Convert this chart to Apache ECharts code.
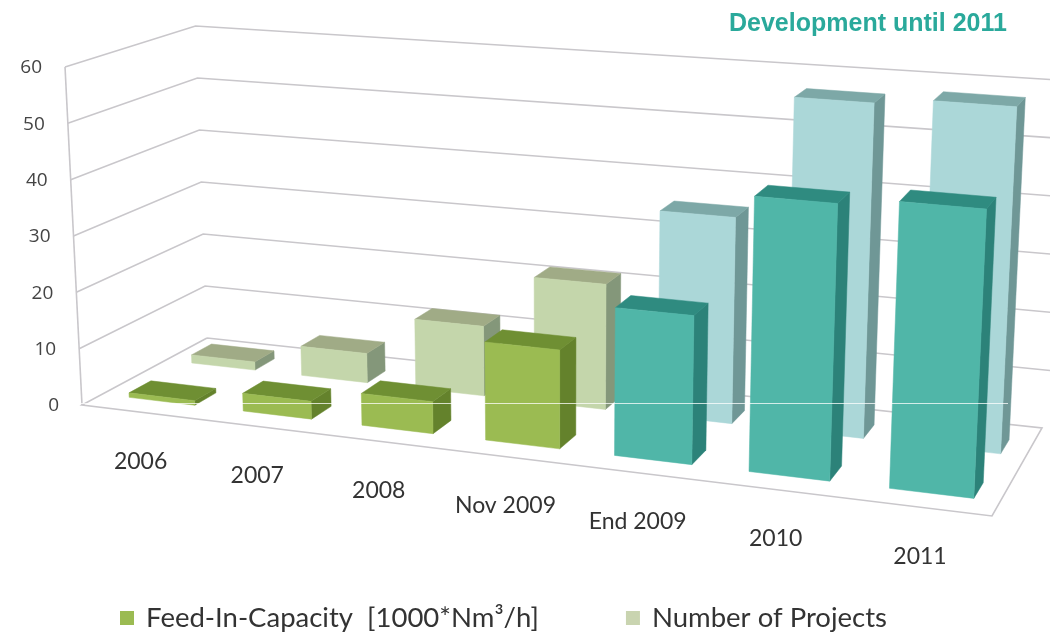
<!DOCTYPE html>
<html><head><meta charset="utf-8">
<style>html,body{margin:0;padding:0;background:#fff}#c{width:1050px;height:633px}</style>
<script src="https://cdn.jsdelivr.net/npm/echarts@6/dist/echarts.min.js"></script>
</head><body><div id="c"></div>
<script>
const categories = ['2006','2007','2008','Nov 2009','End 2009','2010','2011'];
const capacity = [0.8, 3.1, 5.5, 16.7, 24.8, 45.5, 46.7];
const projects = [1.5, 5.3, 12.4, 22, 35.7, 57.2, 58.3];
const yTicks = [0,10,20,30,40,50,60];
const palette = ['green','green','green','green','teal','teal','teal'];
const NAME_CAP = 'Feed-In-Capacity  [1000*Nm³/h]';
const NAME_PRJ = 'Number of Projects';

// Perspective frame of the 3D box (pixel layout)
const floorQuad = [[82,405],[992,516],[1042,428],[207,338]];
const wallHeights = [338,377,348,312];
const vanish = [560,9921];
const faces = {
  cap:{green:['#9bbb52','#6f8f33','#64822c'],teal:['#50b6a8','#2f8b80','#2c8279']},
  prj:{green:['#c4d6ab','#a0ab86','#84977a'],teal:['#abd7d8','#7da8a7','#6f9796']}
};
const depthCap=[0.15,0.32], depthPrj=[0.65,0.82], barFrac=0.58, uShift=0.0045;

function solve(q){
  const [p0,p1,p2,p3]=q;
  const dx1=p1[0]-p2[0],dx2=p3[0]-p2[0],sx=p0[0]-p1[0]+p2[0]-p3[0];
  const dy1=p1[1]-p2[1],dy2=p3[1]-p2[1],sy=p0[1]-p1[1]+p2[1]-p3[1];
  const den=dx1*dy2-dx2*dy1;
  const g=(sx*dy2-dx2*sy)/den,h=(dx1*sy-sx*dy1)/den;
  return {a:p1[0]-p0[0]+g*p1[0],b:p3[0]-p0[0]+h*p3[0],c:p0[0],
          d:p1[1]-p0[1]+g*p1[1],e:p3[1]-p0[1]+h*p3[1],f:p0[1],g,h};
}
const Hf=solve(floorQuad);
function ap(H,u,d){const w=H.g*u+H.h*d+1;return [(H.a*u+H.b*d+H.c)/w,(H.d*u+H.e*d+H.f)/w];}
function P(u,d,f){
  const a=ap(Hf,u,d);
  const hh=(wallHeights[0]*(1-u)+wallHeights[1]*u)*(1-d)+(wallHeights[3]*(1-u)+wallHeights[2]*u)*d;
  const h=hh*f;
  return [a[0]+(a[0]-vanish[0])*h/(vanish[1]-a[1]),a[1]-h];
}

const cs=p=>p.coordSys;
function uOf(api,p,i){const c=cs(p);return (api.coord([i,0])[0]-c.x)/c.width+uShift;}
function fOf(api,p,v){const c=cs(p);return (c.y+c.height-api.coord([0,v])[1])/c.height;}

function barRenderer(set,depth){
  return function(p,api){
    const i=api.value(0),v=api.value(1),c=cs(p);
    const uc=uOf(api,p,i),hw=api.size([1,0])[0]/c.width*barFrac/2,f=fOf(api,p,v);
    const u0=uc-hw,u1=uc+hw,d0=depth[0],d1=depth[1];
    const col=set[palette[i]];
    const poly=(pts,fill)=>({type:'polygon',shape:{points:pts},style:{fill:fill,stroke:fill,lineWidth:0.5}});
    return {type:'group',children:[
      poly([P(u1,d0,0),P(u1,d1,0),P(u1,d1,f),P(u1,d0,f)],col[2]),
      poly([P(u0,d0,f),P(u1,d0,f),P(u1,d1,f),P(u0,d1,f)],col[1]),
      poly([P(u0,d0,0),P(u1,d0,0),P(u1,d0,f),P(u0,d0,f)],col[0])
    ]};
  };
}
function frameRenderer(p,api){
  const f=fOf(api,p,api.value(0));
  const line=(pts)=>({type:'polyline',shape:{points:pts},style:{fill:'none',stroke:'#c9c7cb',lineWidth:1.6}});
  const kids=[line([P(0,0,f),P(0,1,f),P(1.03,1,f)])];
  if(f===0){kids.length=0;kids.push(line([P(0,0,0),P(0,0,1)]));kids.push(line([P(0,1,0),P(0,0,0),P(1,0,0),P(1,1,0),P(0,1,0)]));}
  return {type:'group',children:kids};
}
function tickRenderer(p,api){
  const v=api.value(0),pt=P(0,0,fOf(api,p,v));
  return {type:'text',style:{text:String(v),x:pt[0]-23,y:pt[1]+1,align:'right',verticalAlign:'middle',
    font:'19px "Open Sans"',fill:'#444'}};
}
function catRenderer(p,api){
  const i=api.value(0),pt=P(uOf(api,p,i)-0.002,0,0);
  return {type:'text',style:{text:categories[i],x:pt[0],y:pt[1]+49,align:'center',verticalAlign:'middle',
    font:'23px Lato',fill:'#333'}};
}
const chart=echarts.init(document.getElementById('c'),null,{renderer:'canvas'});
chart.setOption({
  animation:false,
  backgroundColor:'#ffffff',
  title:{text:'Development until 2011',left:724,top:7,textStyle:{fontFamily:'Liberation Sans',fontSize:25,fontWeight:'bold',color:'#2aa99b'}},
  legend:{data:[NAME_CAP,NAME_PRJ],left:115,top:599,icon:'rect',itemWidth:14,itemHeight:14,itemGap:87,
    formatter:n=>' '+n,
    textStyle:{fontFamily:'Lato',fontSize:27.5,color:'#333'}},
  grid:{left:82,top:67,width:910,height:338},
  xAxis:{type:'category',data:categories,show:false},
  yAxis:{type:'value',min:0,max:60,interval:10,show:false},
  series:[
    {name:'frame',type:'custom',z:1,silent:true,data:yTicks.map(v=>[v]),encode:{y:0},renderItem:frameRenderer},
    {name:'ticks',type:'custom',z:1,silent:true,data:yTicks.map(v=>[v]),encode:{y:0},renderItem:tickRenderer},
    {name:'cats',type:'custom',z:1,silent:true,data:categories.map((c,i)=>[i]),encode:{x:0},renderItem:catRenderer},
    {name:NAME_PRJ,type:'custom',z:2,itemStyle:{color:'#c9d4b0'},data:projects.map((v,i)=>[i,v]),encode:{x:0,y:1},renderItem:barRenderer(faces.prj,depthPrj)},
    {name:NAME_CAP,type:'custom',z:3,itemStyle:{color:'#9bbb52'},data:capacity.map((v,i)=>[i,v]),encode:{x:0,y:1},renderItem:barRenderer(faces.cap,depthCap)}
  ],
  graphic:[{type:'rect',z:100,shape:{x:80,y:403,width:928,height:1},style:{fill:'rgba(255,255,255,0.75)'}}]
});
</script></body></html>
